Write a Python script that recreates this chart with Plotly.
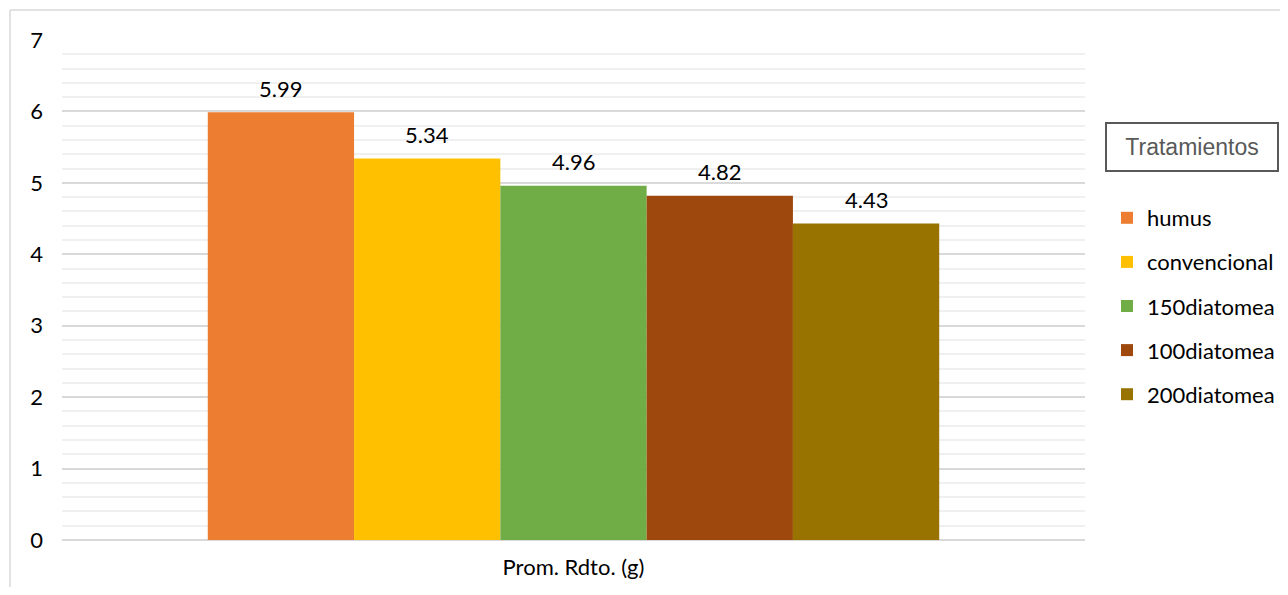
import plotly.graph_objects as go

category = ["Prom. Rdto. (g)"]
treatments = ["humus", "convencional", "150diatomea", "100diatomea", "200diatomea"]
values = [5.99, 5.34, 4.96, 4.82, 4.43]
colors = ["#ED7D31", "#FFC000", "#70AD47", "#9E480E", "#997300"]
y_ticks = [0, 1, 2, 3, 4, 5, 6, 7]

# the page body keeps its default 8px margin; the figure fits inside it
OFF = 8
W, H = 1288 - 2 * OFF, 595 - 2 * OFF
ML, MT = 62 - OFF, 40 - OFF
PW, PH = 1023, 500
MR, MB = W - ML - PW, H - MT - PH

FONT = "Lato"

fig = go.Figure()
for i, (name, v, c) in enumerate(zip(treatments, values, colors)):
    fig.add_trace(go.Bar(
        x=category, y=[v], name=name, marker=dict(color=c, line=dict(width=0)),
        legendgroup=name,
    ))

# data labels above bars
n = len(treatments)
bargap = 0.285
bar_w = PW * (1 - bargap) / n
for i, v in enumerate(values):
    fig.add_annotation(
        x=category[0], y=v, text=f"{v:.2f}", showarrow=False,
        xshift=(i - (n - 1) / 2) * bar_w, yshift=24,
        xanchor="center", yanchor="middle",
        font=dict(family=FONT, size=22, color="#000000"),
    )

def px_x(px):
    return (px - OFF - ML) / PW

def px_y(py):
    return (MT + PH - (py - OFF)) / PH

# legend title box
fig.add_annotation(
    xref="paper", yref="paper",
    x=px_x(1192), y=px_y(147), xanchor="center", yanchor="middle",
    text="Tratamientos", showarrow=False,
    font=dict(family="Liberation Sans", size=23, color="#595959"),
    bordercolor="#595959", borderwidth=2, borderpad=10,
    width=150, bgcolor="white",
)

# outer chart border (top and left visible)
fig.add_shape(type="line", xref="paper", yref="paper", x0=px_x(10), x1=px_x(1300),
              y0=px_y(10), y1=px_y(10), line=dict(color="#d9d9d9", width=1.5))
fig.add_shape(type="line", xref="paper", yref="paper", x0=px_x(10), x1=px_x(10),
              y0=px_y(10), y1=px_y(610), line=dict(color="#d9d9d9", width=1.5))

fig.update_layout(
    width=W, height=H,
    margin=dict(l=ML, r=MR, t=MT, b=MB, autoexpand=False),
    paper_bgcolor="white", plot_bgcolor="white",
    barmode="group", bargap=bargap, bargroupgap=0,
    font=dict(family=FONT, size=22, color="#000000"),
    showlegend=True,
    legend=dict(
        xref="container", yref="container",
        x=(1107 - OFF) / W, y=1 - (197 - OFF) / H, xanchor="left", yanchor="top",
        font=dict(family=FONT, size=22, color="#000000"),
        itemwidth=30, tracegroupgap=12.5, traceorder="grouped",
        bgcolor="rgba(0,0,0,0)",
    ),
    xaxis=dict(
        showgrid=False, showline=False, ticks="", automargin=False,
        tickfont=dict(family=FONT, size=22, color="#000000"),
        ticklabelstandoff=12,
    ),
    yaxis=dict(
        range=[0, 7], tickvals=y_ticks, ticktext=[str(t) for t in y_ticks],
        showgrid=True, gridcolor="#d9d9d9", gridwidth=1.5,
        zeroline=True, zerolinecolor="#d9d9d9", zerolinewidth=1.5,
        showline=False, ticks="", automargin=False,
        minor=dict(dtick=0.2, showgrid=True, gridcolor="#f0f0f0", gridwidth=1.5),
        tickfont=dict(family=FONT, size=22, color="#000000"),
        ticklabelstandoff=18,
    ),
)

fig.write_html("out.html", config={"displayModeBar": False})
